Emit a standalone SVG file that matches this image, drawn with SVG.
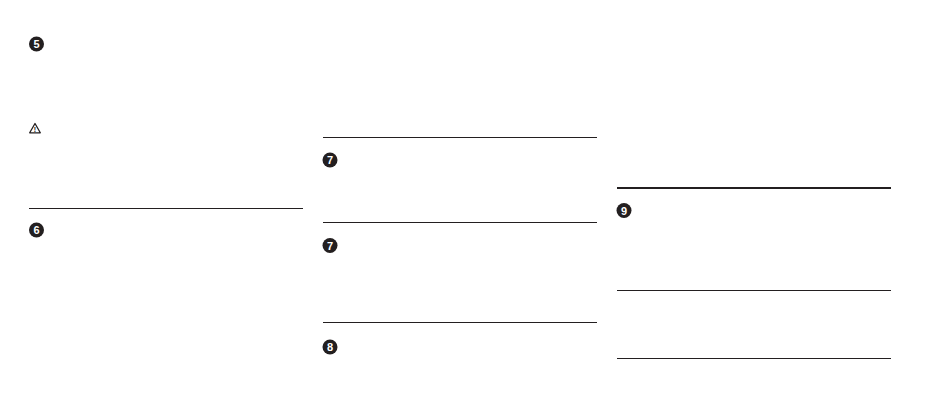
<svg xmlns="http://www.w3.org/2000/svg" width="950" height="419" viewBox="0 0 950 419">
<style>
.bg{fill:#fff}
.rule{stroke:#231f20;stroke-width:1;fill:none}
.heavy{stroke:#231f20;stroke-width:2;fill:none}
.disc{fill:#231f20}
.num{fill:#fff;font-family:"Liberation Sans",Arial,sans-serif;font-size:11px;font-weight:700;text-anchor:middle}
.warn{fill:none;stroke:#231f20;stroke-width:1.3;stroke-linejoin:round}
.warnmark{fill:#231f20;font-family:"Liberation Sans",Arial,sans-serif;font-size:7px;font-weight:700;text-anchor:middle}
</style>
<rect class="bg" width="950" height="419"/>
<g id="connectors">
<line class="rule" x1="29" y1="208.500" x2="303" y2="208.500"/>
<line class="rule" x1="323" y1="137.500" x2="597" y2="137.500"/>
<line class="rule" x1="323" y1="222.500" x2="597" y2="222.500"/>
<line class="rule" x1="323" y1="322.500" x2="597" y2="322.500"/>
<line class="heavy" x1="617" y1="188" x2="891" y2="188"/>
<line class="rule" x1="617" y1="290.500" x2="891" y2="290.500"/>
<line class="rule" x1="617" y1="358.500" x2="891" y2="358.500"/>
</g>
<g id="step5"><circle class="disc" cx="36.500" cy="44" r="7.500"/><text class="num" x="36.500" y="48">5</text></g>
<g id="warning"><path class="warn" d="M35 123.500L40.300 132.800H29.700Z"/><text class="warnmark" x="35" y="132">!</text></g>
<g id="step6"><circle class="disc" cx="36.500" cy="230" r="7.500"/><text class="num" x="36.500" y="234">6</text></g>
<g id="step7a"><circle class="disc" cx="330" cy="160" r="7.500"/><text class="num" x="330" y="164">7</text></g>
<g id="step7b"><circle class="disc" cx="330" cy="245.500" r="7.500"/><text class="num" x="330" y="249.500">7</text></g>
<g id="step8"><circle class="disc" cx="330" cy="347" r="7.500"/><text class="num" x="330" y="351">8</text></g>
<g id="step9"><circle class="disc" cx="624" cy="210.500" r="7.500"/><text class="num" x="624" y="214.500">9</text></g>
</svg>
